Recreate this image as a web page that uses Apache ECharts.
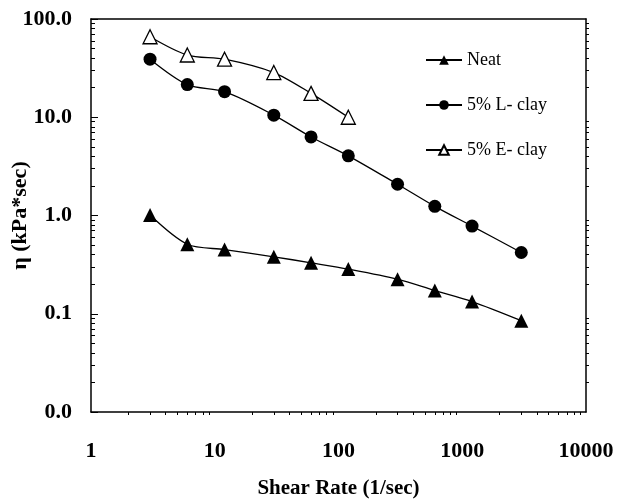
<!DOCTYPE html>
<html>
<head>
<meta charset="utf-8">
<script src="https://cdn.jsdelivr.net/npm/echarts@6/dist/echarts.min.js"></script>
<style>
  html, body { margin: 0; padding: 0; background: #fff; }
  #chart { width: 618px; height: 499px; }
</style>
</head>
<body>
<div id="chart"></div>
<script>
// shear rates (1/sec)
const shearRates = [3, 6, 12, 30, 60, 120, 300, 600, 1200, 3000]
// viscosity (kPa*sec)
const neat = [1.01, 0.51, 0.45, 0.38, 0.33, 0.285, 0.225, 0.172, 0.133, 0.085]
const lClay = [39, 21.5, 18.2, 10.5, 6.3, 4.05, 2.08, 1.24, 0.78, 0.42]
const eClay = [66, 43, 39, 28.5, 17.5, 10]
const seriesNames = ['Neat', '5% L- clay', '5% E- clay']

const chart = echarts.init(document.getElementById('chart'))
const serif = 'Liberation Serif'

const pairs = (ys) => ys.map((y, i) => [shearRates[i], y])

const lineStyle = { color: '#000', width: 1.3 }

const option = {
  animation: false,
  backgroundColor: '#fff',
  grid: { left: 91, right: 32, top: 19, bottom: 87, outerBoundsMode: 'none' },
  legend: {
    orient: 'vertical',
    left: 420,
    top: 46,
    itemGap: 27,
    itemWidth: 36,
    itemHeight: 12,
    data: seriesNames,
    textStyle: { fontFamily: serif, fontSize: 18, color: '#000' }
  },
  xAxis: [
    {
      type: 'log',
      logBase: 10,
      min: 1,
      max: 10000,
      name: 'Shear Rate (1/sec)',
      nameLocation: 'middle',
      nameGap: 66,
      nameMoveOverlap: false,
      nameTextStyle: { fontFamily: serif, fontWeight: 'bold', fontSize: 21, color: '#000' },
      axisLine: { lineStyle: { color: '#000', width: 1.5 } },
      axisTick: { show: false },
      minorTick: { show: true, inside: true, splitNumber: 9, length: 3, lineStyle: { color: '#000' } },
      axisLabel: {
        margin: 28,
        fontFamily: serif, fontWeight: 'bold', fontSize: 22, color: '#000',
        formatter: (v) => String(Math.round(v))
      },
      splitLine: { show: false }
    },
    {
      type: 'log',
      position: 'top',
      min: 1,
      max: 10000,
      axisLine: { lineStyle: { color: '#000', width: 1.5 } },
      axisTick: { show: false },
      axisLabel: { show: false },
      splitLine: { show: false }
    }
  ],
  yAxis: [
    {
      type: 'log',
      logBase: 10,
      min: 0.01,
      max: 100,
      name: 'η (kPa*sec)',
      nameLocation: 'middle',
      nameGap: 60,
      nameMoveOverlap: false,
      nameTextStyle: { fontFamily: serif, fontWeight: 'bold', fontSize: 22, color: '#000' },
      axisLine: { lineStyle: { color: '#000', width: 1.5 } },
      axisTick: { inside: true, length: 7, lineStyle: { color: '#000' } },
      minorTick: { show: true, inside: true, splitNumber: 9, length: 4, lineStyle: { color: '#000' } },
      axisLabel: {
        margin: 19,
        fontFamily: serif, fontWeight: 'bold', fontSize: 22, color: '#000',
        formatter: (v) => v.toFixed(1)
      },
      splitLine: { show: false }
    },
    {
      type: 'log',
      position: 'right',
      min: 0.01,
      max: 100,
      axisLine: { lineStyle: { color: '#000', width: 1.5 } },
      axisTick: { show: false },
      minorTick: { show: true, inside: true, splitNumber: 9, length: 3, lineStyle: { color: '#000' } },
      axisLabel: { show: false },
      splitLine: { show: false }
    }
  ],
  series: [
    {
      name: seriesNames[0],
      type: 'line',
      smooth: 0.3,
      data: pairs(neat),
      symbol: 'triangle',
      symbolSize: 14,
      itemStyle: { color: '#000' },
      lineStyle
    },
    {
      name: seriesNames[1],
      type: 'line',
      smooth: 0.3,
      data: pairs(lClay),
      symbol: 'circle',
      symbolSize: 13,
      itemStyle: { color: '#000' },
      lineStyle
    },
    {
      name: seriesNames[2],
      type: 'line',
      smooth: 0.3,
      data: pairs(eClay),
      symbol: 'triangle',
      symbolSize: 14,
      itemStyle: { color: '#fff', borderColor: '#000', borderWidth: 1.3 },
      lineStyle
    }
  ]
}

chart.setOption(option)
</script>
</body>
</html>
